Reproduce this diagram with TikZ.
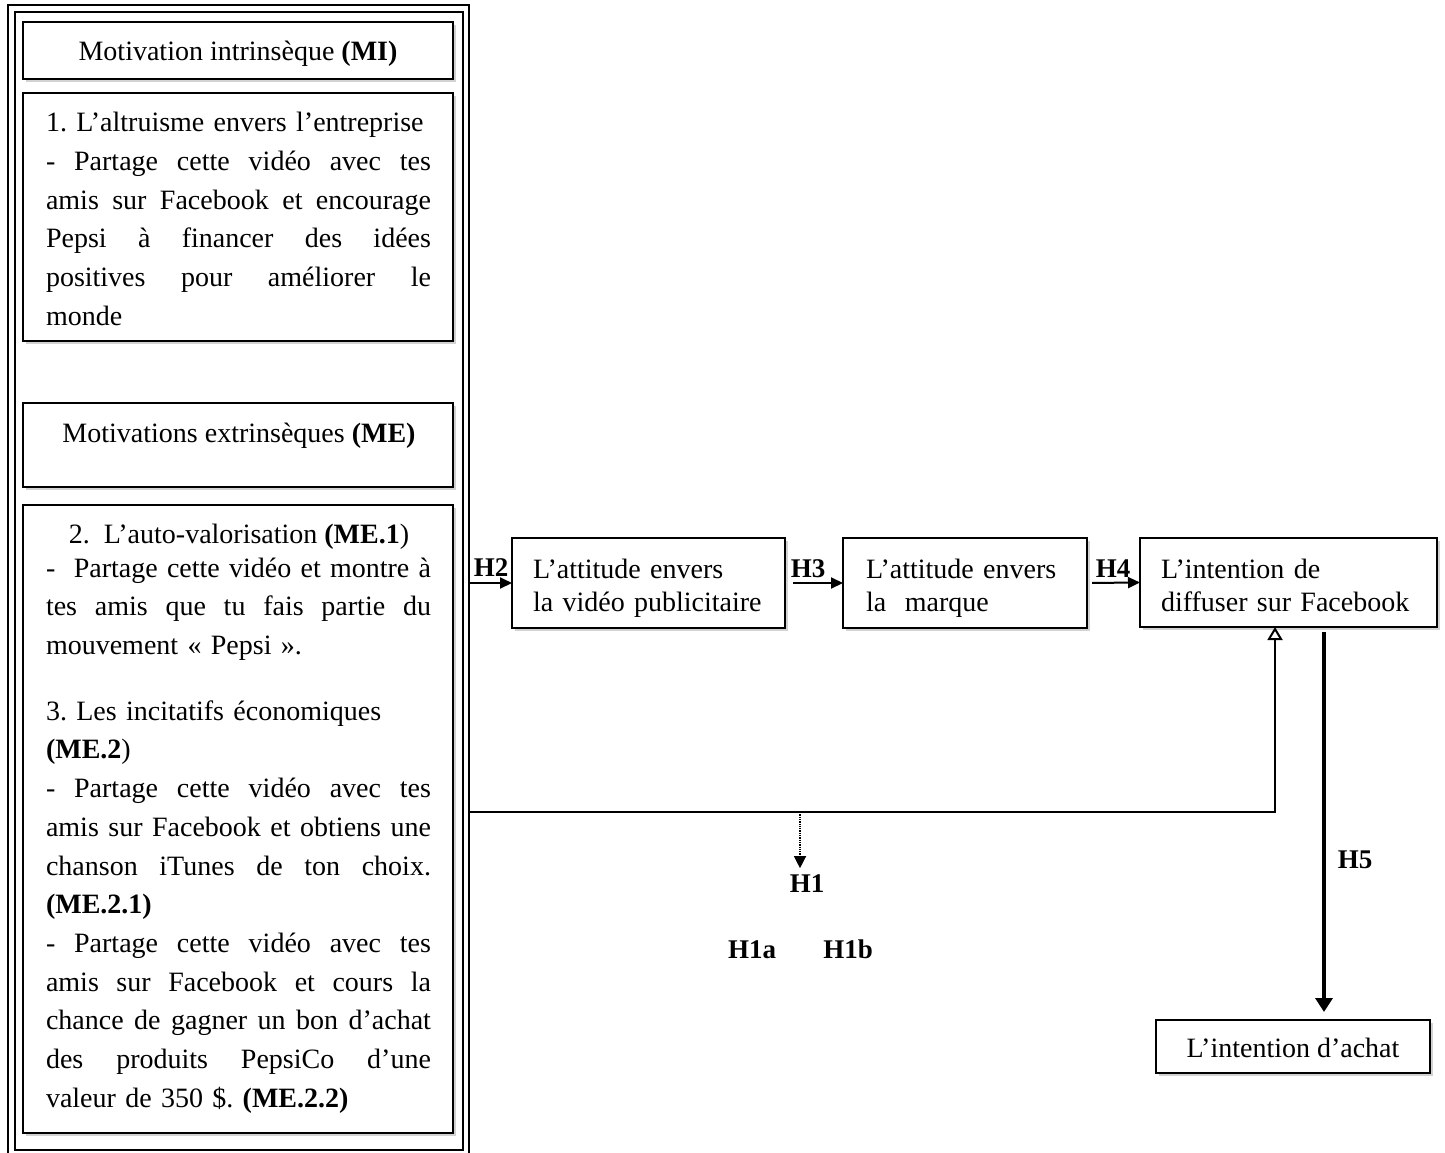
\documentclass[tikz,border=0pt]{standalone}
\usepackage{fontspec}
\setmainfont{Liberation Serif}
\usetikzlibrary{arrows.meta,shadows}
\frenchspacing
\newcommand\jl[1]{\par\hbox to 385pt{\spaceskip=7pt plus 1fil\xspaceskip=7pt plus 1fil\relax #1}}
\newcommand\nl[1]{\par\hbox{#1}}
\newcommand\fst{\rule{0pt}{20pt}}
\begin{document}
\begin{tikzpicture}[x=1pt,y=-1pt,
  every node/.style={font=\fontsize{28}{38.7}\selectfont, inner sep=0pt, outer sep=0pt},
  box/.style={draw, line width=2.3pt, fill=white, anchor=north west,
    drop shadow={shadow xshift=3pt,shadow yshift=-3pt,fill=black!35}},
  frameline/.style={draw, line width=1.8pt, anchor=north west},
  para/.style={anchor=north west, text width=385pt},
  rtext/.style={anchor=north west, text width=270pt, font=\fontsize{28}{32.5}\selectfont},
  hyp/.style={font=\fontsize{27}{30}\selectfont\bfseries, anchor=base},
  conn/.style={line width=2pt},
  tip/.style={-{Triangle[length=12pt,width=11pt]}}
]
\useasboundingbox (0,0) rectangle (1445,1153);
\clip (0,0) rectangle (1445,1153);
\fill[white] (0,0) rectangle (1445,1153);

% double frame
\node[frameline, minimum width=461pt, minimum height=1160pt] (frameout) at (8,5) {};
\node[frameline, minimum width=448pt, minimum height=1138pt] (framein) at (15,12) {};

% left boxes
\node[box, minimum width=430pt, minimum height=57pt] (mi) at (23,22) {};
\node[box, minimum width=430pt, minimum height=248pt] (b1) at (23,93) {};
\node[box, minimum width=430pt, minimum height=84pt] (me) at (23,403) {};
\node[box, minimum width=430pt, minimum height=628pt] (b2) at (23,505) {};

\node[anchor=base] (mitxt) at (238,61) {Motivation intrinsèque \textbf{(MI)}};
\node[anchor=base] (metxt) at (239,442) {Motivations extrinsèques \textbf{(ME)}};

\node[para] (b1txt) at (46,93) {%
\nl{\fst 1. L’altruisme envers l’entreprise}%
\jl{- Partage cette vidéo avec tes}%
\jl{amis sur Facebook et encourage}%
\jl{Pepsi à financer des idées}%
\jl{positives pour améliorer le}%
\nl{monde}};

\node[anchor=base] (b2head) at (239,543) {2.\ \ L’auto-valorisation \textbf{(ME.1})};

\node[para] (b2txt) at (46,538.5) {%
\jl{\fst -\ \ Partage cette vidéo et montre à}%
\jl{tes amis que tu fais partie du}%
\nl{mouvement « Pepsi ».}};

\node[para] (b3txt) at (46,681.5) {%
\nl{\fst 3. Les incitatifs économiques}%
\nl{\textbf{(ME.2})}%
\jl{- Partage cette vidéo avec tes}%
\jl{amis sur Facebook et obtiens une}%
\jl{chanson iTunes de ton choix.}%
\nl{\textbf{(ME.2.1)}}%
\jl{- Partage cette vidéo avec tes}%
\jl{amis sur Facebook et cours la}%
\jl{chance de gagner un bon d’achat}%
\jl{des produits PepsiCo d’une}%
\nl{valeur de 350 \$. \textbf{(ME.2.2)}}};

% right boxes
\node[box, minimum width=273pt, minimum height=90pt] (A) at (512,538) {};
\node[box, minimum width=244pt, minimum height=90pt] (B) at (843,538) {};
\node[box, minimum width=297pt, minimum height=89pt] (C) at (1140,538) {};
\node[box, minimum width=274pt, minimum height=53pt] (D) at (1156,1020) {};

\node[rtext] (Atxt) at (533,546) {\nl{\fst L’attitude envers}\nl{la vidéo publicitaire}};
\node[rtext] (Btxt) at (866,546) {\nl{\fst L’attitude envers}\nl{la\ \ marque}};
\node[rtext] (Ctxt) at (1161,546) {\nl{\fst L’intention de}\nl{diffuser sur Facebook}};
\node[anchor=base] (Dtxt) at (1293,1057) {L’intention d’achat};

% hypothesis labels
\node[hyp] (H2) at (491,576) {H2};
\node[hyp] (H3) at (808,577) {H3};
\node[hyp] (H4) at (1113,577) {H4};
\node[hyp] (H5) at (1355,868) {H5};
\node[hyp] (H1) at (807,892) {H1};
\node[hyp] (H1a) at (752,958) {H1a};
\node[hyp] (H1b) at (848,958) {H1b};

% connectors
\draw[conn, tip] (frameout.east |- A.west) -- (A.west);
\draw[conn, tip, shorten <=8pt] (A.east) -- (B.west);
\draw[conn, tip, shorten <=5pt] (B.east) -- (C.west);

\coordinate (h1c) at (1275,812);
\coordinate (h1d) at (800,812);
\draw[conn, -{Triangle[open,length=13pt,width=15pt,line width=2pt]}] (frameout.east |- h1c) -- (h1c) -- (C.south -| h1c);
\draw[line width=1.3pt, densely dotted, -{Triangle[length=12pt,width=12pt]}] (h1d) -- ([yshift=6pt]H1.north -| h1d);

\coordinate (h5x) at (1324,700);
\draw[line width=4.5pt, -{Triangle[length=14pt,width=17pt]}, shorten <=5pt, shorten >=8pt] (C.south -| h5x) -- (D.north -| h5x);
\end{tikzpicture}
\end{document}
